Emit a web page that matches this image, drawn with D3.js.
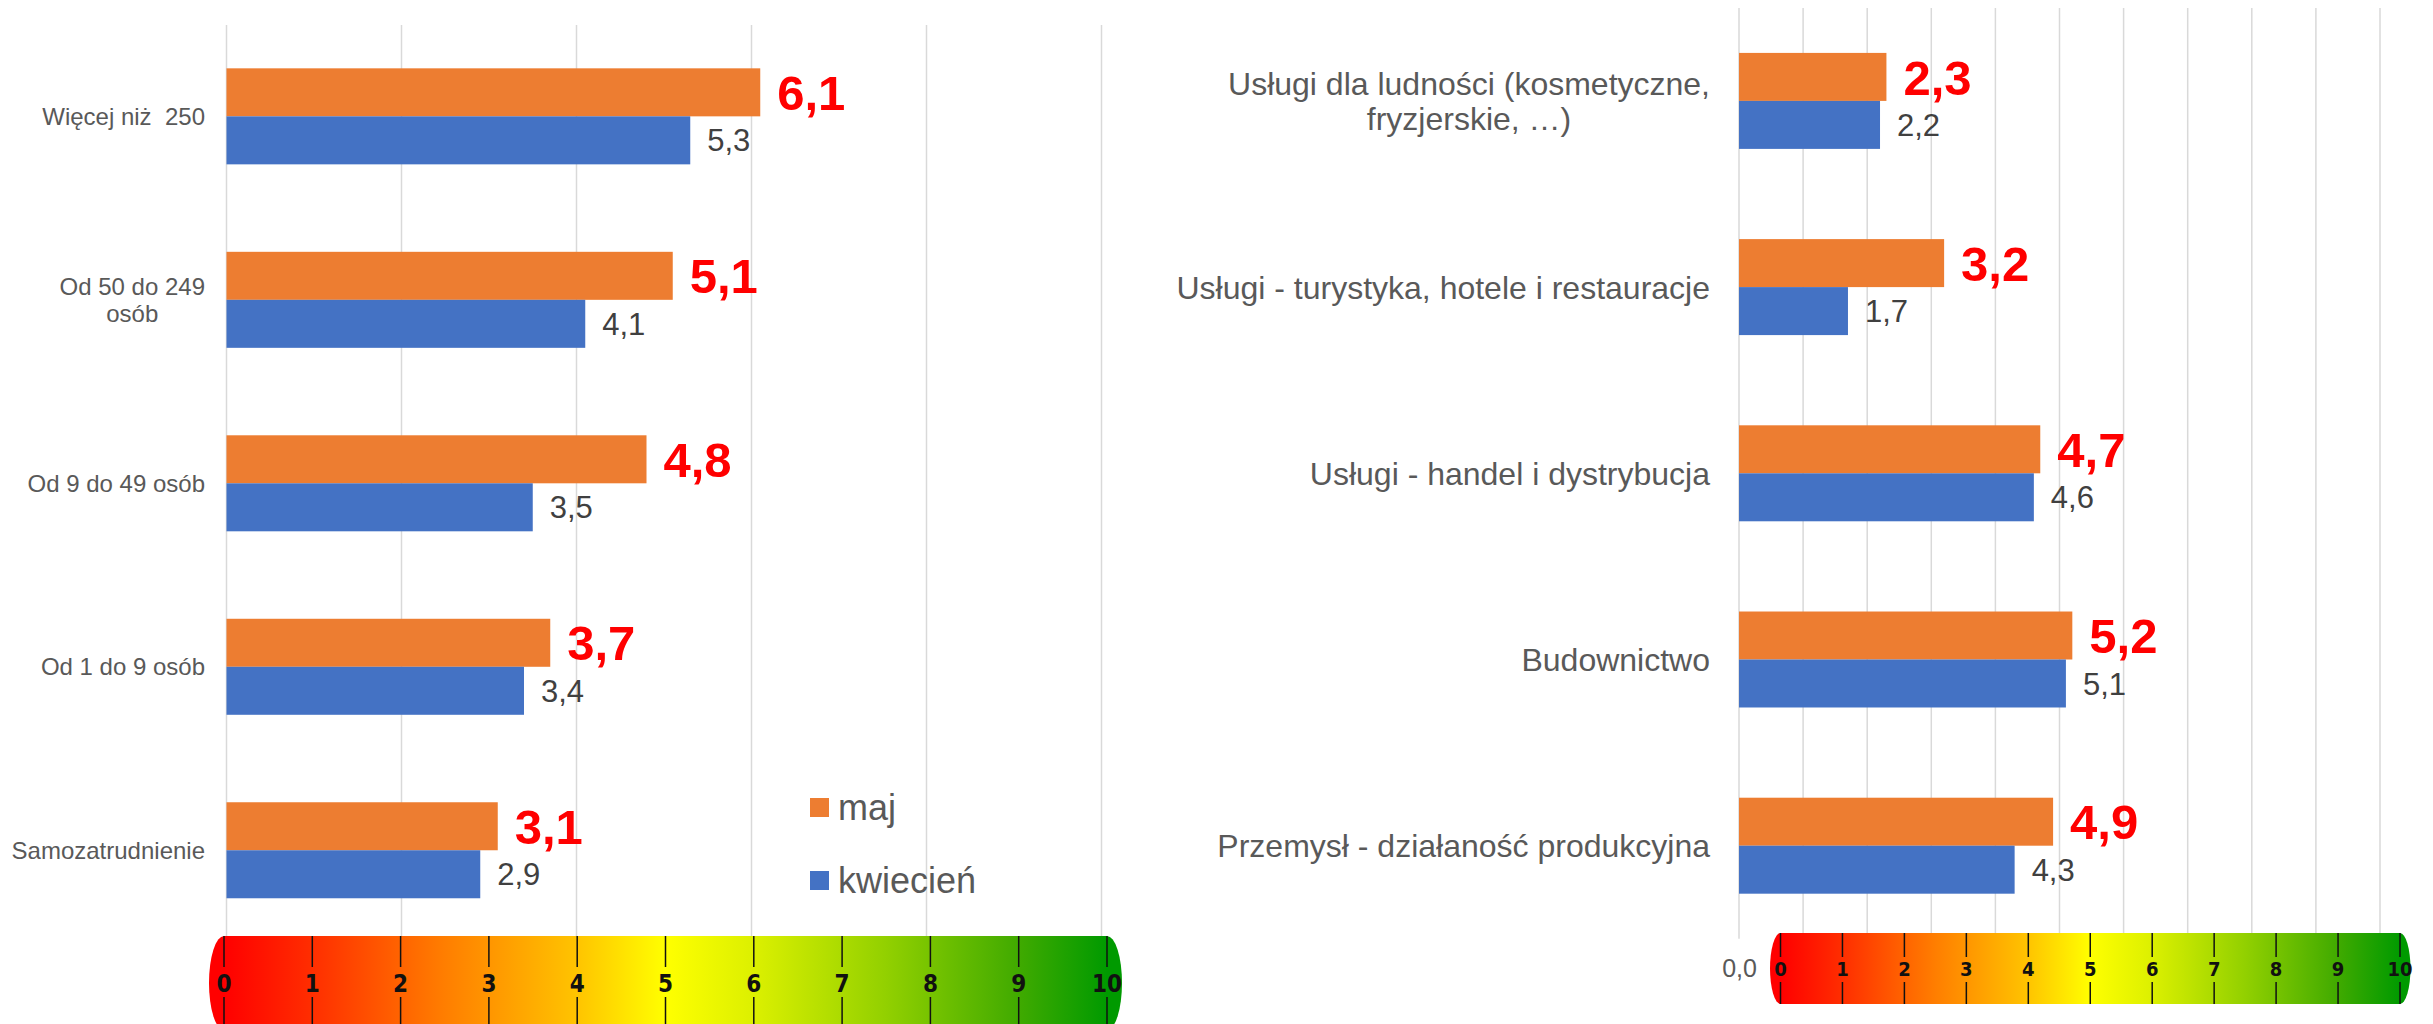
<!DOCTYPE html>
<html>
<head>
<meta charset="utf-8">
<script src="https://cdn.jsdelivr.net/npm/d3@7"></script>
<style>
  body { margin: 0; background: #fff; }
  svg { display: block; font-family: "Liberation Sans", Arial, sans-serif; }
</style>
</head>
<body>
<svg id="chart" width="2433" height="1024"></svg>
<script>
// dane - wielkość firmy
const sizeCats = ["Więcej niż  250", "Od 50 do 249\nosób", "Od 9 do 49 osób", "Od 1 do 9 osób", "Samozatrudnienie"];
const sizeMay = [6.1, 5.1, 4.8, 3.7, 3.1];
const sizeApr = [5.3, 4.1, 3.5, 3.4, 2.9];

// dane - branże
const sectorCats = [
  "Usługi dla ludności (kosmetyczne,\nfryzjerskie, …)",
  "Usługi - turystyka, hotele i restauracje",
  "Usługi - handel i dystrybucja",
  "Budownictwo",
  "Przemysł - działaność produkcyjna"
];
const sectorMay = [2.3, 3.2, 4.7, 5.2, 4.9];
const sectorApr = [2.2, 1.7, 4.6, 5.1, 4.3];

const seriesNames = ["maj", "kwiecień"];
const seriesColors = ["#ED7D31", "#4472C4"];
const scaleTicks = [0, 1, 2, 3, 4, 5, 6, 7, 8, 9, 10];
const axisLabels = [0]; // reszta etykiet osi schowana pod skalą kolorów

const svg = d3.select("#chart");
const fmt = (v) => d3.format(".1f")(v).replace(".", ",");

function drawPanel(cfg) {
  const { cats, may, apr, x, top, bottom, gridTicks, labelX, labelSize, lineH, valSize, redSize, gridTop } = cfg;
  const g = svg.append("g");

  const y0 = d3.scaleBand().domain(cats).range([top, bottom]).paddingInner(0).paddingOuter(0);
  const y1 = d3.scaleBand().domain(seriesNames).range([0, y0.bandwidth()]).paddingInner(0).paddingOuter(cfg.outerPad);

  // linie siatki
  g.selectAll("line.grid")
    .data(gridTicks)
    .join("line")
    .attr("class", "grid")
    .attr("x1", (d) => x(d))
    .attr("x2", (d) => x(d))
    .attr("y1", gridTop)
    .attr("y2", bottom)
    .attr("stroke", "#D9D9D9")
    .attr("stroke-width", 1.5);

  const rows = cats.map((c, i) => ({ cat: c, vals: [may[i], apr[i]] }));

  const grp = g.selectAll("g.row").data(rows).join("g").attr("class", "row")
    .attr("transform", (d) => `translate(0,${y0(d.cat)})`);

  grp.selectAll("rect")
    .data((d) => d.vals.map((v, k) => ({ v, s: seriesNames[k], k })))
    .join("rect")
    .attr("x", x(0))
    .attr("y", (d) => y1(d.s))
    .attr("width", (d) => x(d.v) - x(0))
    .attr("height", y1.bandwidth())
    .attr("fill", (d) => seriesColors[d.k]);

  // etykiety wartości
  grp.selectAll("text.val")
    .data((d) => d.vals.map((v, k) => ({ v, s: seriesNames[k], k })))
    .join("text")
    .attr("class", "val")
    .attr("x", (d) => x(d.v) + 17)
    .attr("y", (d) => y1(d.s) + y1.bandwidth() / 2)
    .attr("dy", "0.36em")
    .attr("font-size", (d) => (d.k === 0 ? redSize : valSize))
    .attr("font-weight", (d) => (d.k === 0 ? "bold" : "normal"))
    .attr("fill", (d) => (d.k === 0 ? "#FF0000" : "#404040"))
    .text((d) => fmt(d.v));

  // etykiety kategorii (wielowierszowe wyśrodkowane w bloku)
  grp.each(function (d) {
    const lines = d.cat.split("\n");
    const t = d3.select(this).append("text")
      .attr("font-size", labelSize)
      .attr("fill", "#595959")
      .style("white-space", "pre");
    const cy = y0.bandwidth() / 2;
    const first = cy - ((lines.length - 1) * lineH) / 2 + labelSize * 0.36;
    const spans = lines.map((l, i) =>
      t.append("tspan").attr("y", first + i * lineH).text(l)
    );
    const w = d3.max(spans, (s) => s.node().getComputedTextLength());
    spans.forEach((s) => s.attr("x", labelX - w / 2).attr("text-anchor", "middle"));
  });

  return g;
}

// lewy wykres
const xL = d3.scaleLinear().domain([0, 10]).range([226.5, 1101.5]);
drawPanel({
  cats: sizeCats, may: sizeMay, apr: sizeApr, x: xL,
  top: 24.6, bottom: 942, gridTop: 25, gridTicks: xL.ticks(5),
  outerPad: 0.911, labelX: 205, labelSize: 24, lineH: 27.4, valSize: 31, redSize: 49
});

// prawy wykres
const xR = d3.scaleLinear().domain([0, 10]).range([1739, 2380]);
drawPanel({
  cats: sectorCats, may: sectorMay, apr: sectorApr, x: xR,
  top: 7.8, bottom: 938.8, gridTop: 8, gridTicks: xR.ticks(10),
  outerPad: 0.94, labelX: 1710, labelSize: 32, lineH: 35.6, valSize: 31, redSize: 49
});

// oś prawego wykresu (widoczne tylko 0,0)
const axR = svg.append("g")
  .attr("transform", "translate(0,938.8)")
  .call(d3.axisBottom(xR).tickValues(axisLabels).tickSize(0).tickPadding(20).tickFormat(fmt));
axR.select(".domain").remove();
axR.selectAll("text")
  .attr("font-family", "Liberation Sans, Arial, sans-serif")
  .attr("font-size", 25)
  .attr("fill", "#595959");

// legenda
const leg = svg.append("g").attr("transform", "translate(810,798)");
const legItems = leg.selectAll("g").data(seriesNames).join("g")
  .attr("transform", (d, i) => `translate(0,${i * 73})`);
legItems.append("rect").attr("width", 19).attr("height", 19)
  .attr("fill", (d, i) => seriesColors[i]);
legItems.append("text").attr("x", 28).attr("y", 22)
  .attr("font-size", 36).attr("fill", "#595959").text((d) => d);

// skale kolorów
const defs = svg.append("defs");
function colorBar(id, x0, x1, top, bottom, rx, fontSize, tickTop, tickBot) {
  const sx = d3.scaleLinear().domain([0, 10]).range([x0, x1]);
  const grad = defs.append("linearGradient").attr("id", id)
    .attr("gradientUnits", "userSpaceOnUse")
    .attr("x1", sx(0)).attr("x2", sx(10)).attr("y1", 0).attr("y2", 0);
  [[0, "#FF0000"], [0.1, "#FF2E00"], [0.25, "#FF7E00"], [0.4, "#FFC400"], [0.5, "#FFFF00"],
   [0.6, "#DCF000"], [0.75, "#92D000"], [0.9, "#40AA00"], [1, "#009A00"]]
    .forEach(([o, c]) => grad.append("stop").attr("offset", o).attr("stop-color", c));

  const ry = (bottom - top) / 2;
  const cy = (top + bottom) / 2;
  const g = svg.append("g");
  g.append("path")
    .attr("d", `M${sx(0)},${top} L${sx(10)},${top} A${rx},${ry} 0 0 1 ${sx(10)},${bottom} L${sx(0)},${bottom} A${rx},${ry} 0 0 1 ${sx(0)},${top} Z`)
    .attr("fill", `url(#${id})`);

  g.selectAll("line.t1").data(scaleTicks).join("line").attr("class", "t1")
    .attr("x1", sx).attr("x2", sx).attr("y1", top).attr("y2", top + tickTop)
    .attr("stroke", "#111").attr("stroke-width", 1.5);
  g.selectAll("line.t2").data(scaleTicks).join("line").attr("class", "t2")
    .attr("x1", sx).attr("x2", sx).attr("y1", bottom - tickBot).attr("y2", bottom)
    .attr("stroke", "#111").attr("stroke-width", 1.5);
  g.selectAll("text").data(scaleTicks).join("text")
    .attr("x", sx).attr("y", cy).attr("dy", "0.36em")
    .attr("text-anchor", "middle")
    .attr("font-family", "'Liberation Sans Narrow', 'DejaVu Sans Condensed', sans-serif")
    .attr("font-weight", "bold")
    .attr("font-size", fontSize)
    .attr("fill", "#111")
    .text((d) => d);
}
colorBar("gradL", 224, 1107, 936, 1030, 15, 24, 31, 33);
colorBar("gradR", 1780.5, 2400, 933, 1004, 10.5, 20, 24, 22);
</script>
</body>
</html>
